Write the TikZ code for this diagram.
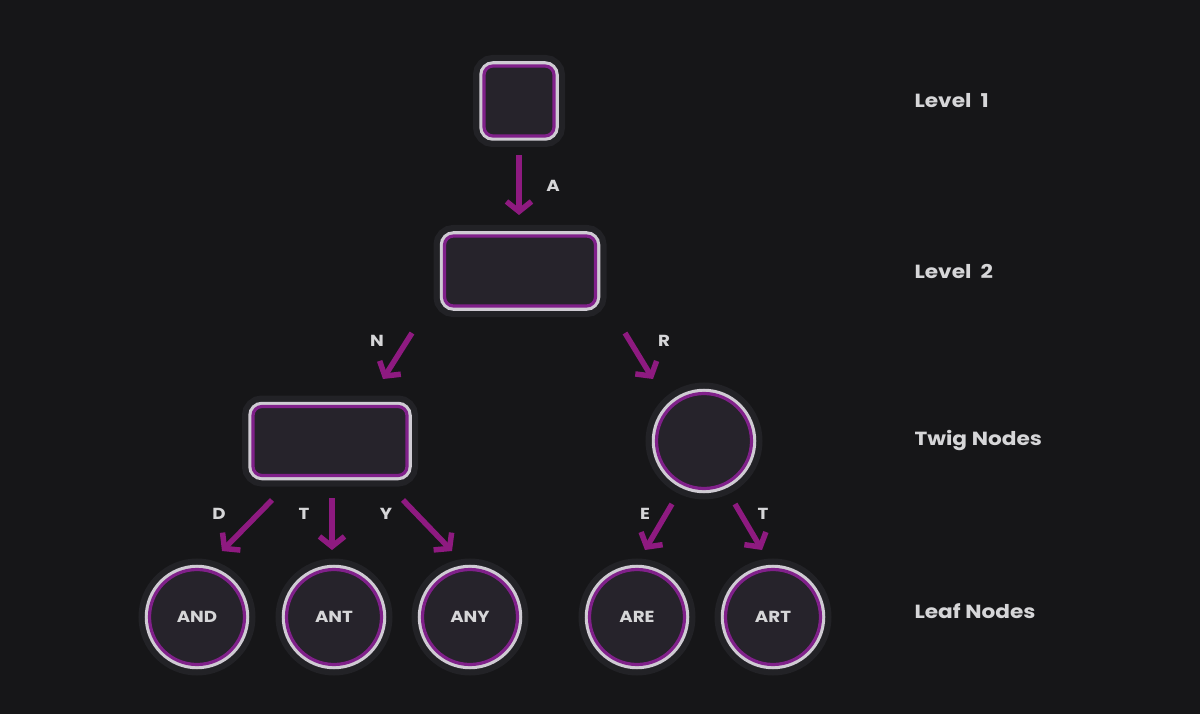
\documentclass[tikz,border=0pt]{standalone}
\usepackage{fontspec}
\setmainfont{Poppins}
\newfontfamily\widefont{Poppins}[FakeStretch=1.14]
\usetikzlibrary{arrows.meta,positioning}

\definecolor{bg}{HTML}{161618}
\definecolor{halo}{HTML}{222226}
\definecolor{rim}{HTML}{CFCBD3}
\definecolor{ring}{HTML}{80208A}
\definecolor{nodefill}{HTML}{26232B}
\definecolor{edge}{HTML}{8E1A80}
\definecolor{txt}{HTML}{D6D6D8}

\tikzset{
  trie/.style={draw=ring, line width=3.2pt, fill=nodefill, inner sep=0pt, outer sep=0pt,
    preaction={draw=halo, line width=22pt},
    preaction={draw=rim, line width=9.5pt}},
  box/.style={trie, rectangle, rounded corners=9pt},
  ball/.style={trie, circle, minimum size=95pt, text=txt, font=\widefont\bfseries\fontsize{16}{18}\selectfont},
  arr/.style={draw=edge, line width=5.5pt, -{Straight Barb[length=10pt,width=25pt]}},
  edgelbl/.style={text=txt, font=\widefont\bfseries\fontsize{16}{18}\selectfont},
  level/.style={anchor=west, text=txt, font=\widefont\bfseries\fontsize{19}{21}\selectfont}
}

\begin{document}
\begin{tikzpicture}[x=1pt, y=-1pt]
  \fill[bg] (0,0) rectangle (1200,714);
  \useasboundingbox (0,0) rectangle (1200,714);

  % trie nodes
  \node[box, minimum width=70pt, minimum height=70pt] (top) at (519,101) {};
  \node[box, minimum width=151pt, minimum height=70pt] (lvl2) at (520,271) {};
  \node[box, minimum width=154pt, minimum height=69pt] (twigL) at (330,441) {};
  \node[ball] (twigR) at (704,441) {};
  \node[ball] (and) at (197,617) {AND};
  \node[ball] (ant) at (334,617) {ANT};
  \node[ball] (any) at (470,617) {ANY};
  \node[ball] (are) at (637,617) {ARE};
  \node[ball] (art) at (773,617) {ART};

  % edges
  \draw[arr] (top)   ++(0,54)    -- ++(0,60);
  \draw[arr] (lvl2)  ++(-108,62) -- ++(-29,46);
  \draw[arr] (lvl2)  ++(105,62)  -- ++(28,46);
  \draw[arr] (twigL) ++(-58,59)  -- ++(-50,51);
  \draw[arr] (twigL) ++(2,57)    -- ++(0,52);
  \draw[arr] (twigL) ++(73,59)   -- ++(49,51);
  \draw[arr] (twigR) ++(-32,63)  -- ++(-27,46);
  \draw[arr] (twigR) ++(31,63)   -- ++(27,46);

  % edge letters
  \node[edgelbl] (lA)  at (553,186) {A};
  \node[edgelbl] (lN)  at (377,341) {N};
  \node[edgelbl] (lR)  at (664,341) {R};
  \node[edgelbl] (lD)  at (219,514) {D};
  \node[edgelbl] (lT)  at (304,514) {T};
  \node[edgelbl] (lY)  at (386,514) {Y};
  \node[edgelbl] (lE)  at (645,514) {E};
  \node[edgelbl] (lT2) at (763,514) {T};

  % levels
  \node[level] (lev1) at (911,101) {Level\ \ 1};
  \node[level] (lev2) at (911,271) {Level\ \ 2};
  \node[level] (twig) at (911,441) {Twig Nodes};
  \node[level] (leaf) at (911,611) {Leaf Nodes};
\end{tikzpicture}
\end{document}
